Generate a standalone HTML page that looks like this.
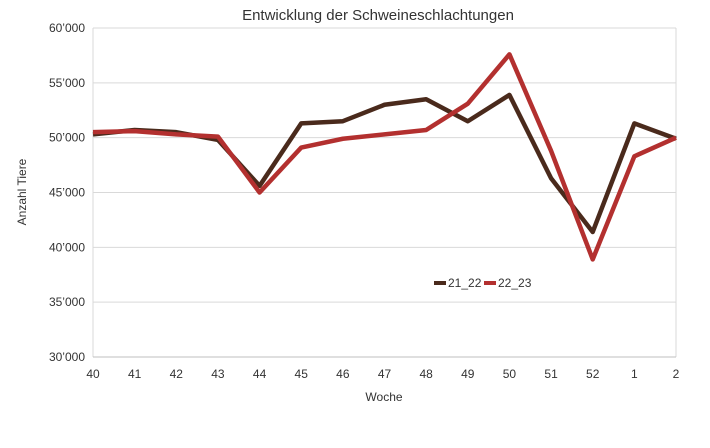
<!DOCTYPE html>
<html><head><meta charset="utf-8"><style>
body{margin:0;background:#fff;font-family:"Liberation Sans",sans-serif;}
svg text{font-family:"Liberation Sans",sans-serif;fill:#333;}
</style></head><body>
<svg id="chart" width="710" height="443" viewBox="0 0 710 443" xmlns="http://www.w3.org/2000/svg">
<text x="378" y="20" text-anchor="middle" font-size="15">Entwicklung der Schweineschlachtungen</text>
<g id="grid"></g><g id="axes"></g><g id="series"></g>
<text transform="translate(26,192) rotate(-90)" text-anchor="middle" font-size="12">Anzahl Tiere</text>
<text x="384" y="401" text-anchor="middle" font-size="12">Woche</text>
<g>
<line x1="434" y1="283" x2="446" y2="283" stroke="#4a2a1c" stroke-width="4"/>
<text x="448" y="287" font-size="12">21_22</text>
<line x1="484" y1="283" x2="496" y2="283" stroke="#b3302f" stroke-width="4"/>
<text x="498" y="287" font-size="12">22_23</text>
</g>
</svg>
<script>
const categories=["40","41","42","43","44","45","46","47","48","49","50","51","52","1","2"];
const series2122=[50300,50700,50500,49800,45600,51300,51500,53000,53500,51500,53900,46300,41400,51300,49900];
const series2223=[50500,50600,50300,50100,45000,49100,49900,50300,50700,53100,57600,48800,38900,48300,50000];
const yTicks=[30000,35000,40000,45000,50000,55000,60000];
const yTickLabels=["30’000","35’000","40’000","45’000","50’000","55’000","60’000"];
const NS="http://www.w3.org/2000/svg";
const x0=93,x1=676,yTop=28,yBot=357,yMin=30000,yMax=60000;
const xs=i=>x0+i*(x1-x0)/(categories.length-1);
const ys=v=>yBot-(v-yMin)/(yMax-yMin)*(yBot-yTop);
function mk(t,a,p){const e=document.createElementNS(NS,t);for(const k in a)e.setAttribute(k,a[k]);p.appendChild(e);return e;}
const grid=document.getElementById('grid'),axes=document.getElementById('axes'),ser=document.getElementById('series');
yTicks.forEach((v,i)=>{
 const l=mk('line',{x1:x0,x2:x1,y1:ys(v),y2:ys(v),stroke:'#d9d9d9','stroke-width':1},grid);
 
 
 const t=mk('text',{x:x0-8,y:ys(v)+4,'text-anchor':'end','font-size':12},axes);
 t.textContent=yTickLabels[i];
 
 
});
const vl=mk('line',{x1:x0,x2:x0,y1:yTop,y2:yBot,stroke:'#d9d9d9'},grid);


const vr=mk('line',{x1:x1,x2:x1,y1:yTop,y2:yBot,stroke:'#d9d9d9'},grid);


const xa=mk('line',{x1:x0,x2:x1,y1:yBot,y2:yBot,stroke:'#bfbfbf'},axes);


categories.forEach((c,i)=>{
 const t=mk('text',{x:xs(i),y:yBot+21,'text-anchor':'middle','font-size':12},axes);
 t.textContent=c;
 
 
});
function line(vals,color,name){
 const p=mk('polyline',{points:vals.map((v,i)=>xs(i)+','+ys(v)).join(' '),fill:'none',stroke:color,'stroke-width':4.5,'stroke-linejoin':'round'},ser);
 
 
}
line(series2122,'#4a2a1c','line-21-22');
line(series2223,'#b3302f','line-22-23');
</script>
</body></html>
